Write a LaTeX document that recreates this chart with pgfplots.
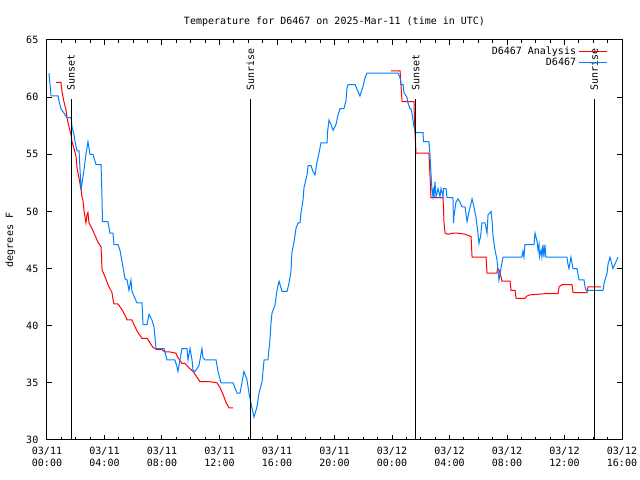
\documentclass[border=0pt]{standalone}
\usepackage{pgfplots}
\pgfplotsset{compat=1.18}
\usepackage{fontspec}
\setmainfont{DejaVu Sans Mono}
\definecolor{gpred}{RGB}{255,0,0}
\definecolor{gpblue}{RGB}{0,128,255}
\begin{document}
\begin{tikzpicture}
\begin{axis}[
  scale only axis,
  width=431.25pt, height=300pt,
  xmin=0, xmax=40, ymin=30, ymax=65,
  xtick={0,4,...,40},
  xticklabels={{03/11\\00:00},{03/11\\04:00},{03/11\\08:00},{03/11\\12:00},{03/11\\16:00},{03/11\\20:00},{03/12\\00:00},{03/12\\04:00},{03/12\\08:00},{03/12\\12:00},{03/12\\16:00}},
  minor x tick num=3,
  ytick={30,35,...,65},
  tick align=inside,
  major tick length=3.75pt,
  minor tick length=2.25pt,
  tick style={black, line width=0.75pt},
  axis line style={black, line width=0.75pt},
  /pgf/number format/assume math mode=true,
  tick label style={font=\fontsize{7.5}{9}\selectfont},
  xticklabel style={align=center, yshift=-2pt},
  yticklabel style={xshift=-3pt},
  ylabel={degrees F},
  ylabel style={font=\fontsize{7.5}{9}\selectfont, at={(axis description cs:0,0.5)}, anchor=center, yshift=27.5pt},
  title={Temperature for D6467 on 2025-Mar-11 (time in UTC)},
  title style={font=\fontsize{7.5}{9}\selectfont, yshift=0.5pt},
  unbounded coords=jump,
  legend plot pos=right,
  legend cell align=right,
  legend image code/.code={\draw[#1] (0pt,0pt) -- (21pt,0pt);},
  legend style={at={(rel axis cs:1,1)}, anchor=north east, xshift=-8pt, yshift=-1.5pt,
    draw=none, fill=none, font=\fontsize{7.5}{9}\selectfont, row sep=-2pt,
    nodes={inner sep=1.5pt}},
]
\addplot[gpred, line width=0.75pt] table {
x y
0.63 61.3
0.97 61.3
1.04 60.5
1.18 59.6
1.32 58.9
1.39 58.2
1.53 57.4
1.67 56.7
1.74 56.1
1.88 55.5
2.02 54.8
2.09 53.8
2.23 52.9
2.37 51.9
2.43 51.3
2.50 51.0
2.57 50.1
2.71 49.0
2.78 49.7
2.85 49.9
2.92 49.0
3.13 48.5
3.34 47.9
3.55 47.3
3.76 46.9
3.83 44.9
4.03 44.3
4.24 43.6
4.52 42.9
4.59 42.3
4.66 41.9
4.94 41.9
5.22 41.4
5.43 40.9
5.57 40.5
5.91 40.5
6.12 39.9
6.33 39.4
6.61 38.9
6.96 38.9
7.17 38.5
7.37 38.1
7.65 37.9
8.00 37.9
8.21 37.7
8.56 37.7
8.97 37.6
9.11 37.2
9.39 36.7
9.60 36.7
9.88 36.3
10.16 36.0
10.43 35.5
10.64 35.1
11.34 35.1
11.83 35.0
12.03 34.6
12.24 34.0
12.45 33.3
12.66 32.8
12.94 32.8
13.00 nan
23.93 62.3
24.56 62.3
24.59 61.8
24.63 61.0
24.70 59.6
25.53 59.6
25.57 57.6
25.67 55.1
26.57 55.1
26.64 53.2
26.71 51.2
27.55 51.2
27.62 49.0
27.69 48.1
27.90 48.0
28.24 48.1
28.59 48.1
29.08 48.0
29.50 47.8
29.57 46.0
30.54 46.0
30.61 44.6
31.30 44.6
31.34 45.0
31.44 44.9
31.58 44.3
31.65 43.9
32.21 43.9
32.28 43.1
32.56 43.1
32.63 42.4
33.25 42.4
33.39 42.6
33.60 42.7
34.64 42.8
35.55 42.8
35.62 43.4
35.83 43.6
36.52 43.6
36.59 42.9
37.57 42.9
37.63 43.4
38.54 43.4
};
\addlegendentry{D6467 Analysis}
\addplot[gpblue, line width=0.75pt] table {
x y
0.14 62.1
0.21 61.1
0.28 60.1
0.77 60.1
0.83 59.7
0.97 59.0
1.18 58.6
1.39 58.2
1.67 58.2
1.74 57.4
1.88 56.7
1.95 56.1
2.09 55.3
2.23 55.3
2.37 51.9
2.57 53.6
2.71 55.0
2.85 56.1
2.99 55.0
3.20 55.0
3.41 54.1
3.76 54.1
3.83 51.0
3.86 49.1
4.24 49.1
4.38 48.1
4.59 48.1
4.66 47.1
4.94 47.1
5.08 46.6
5.29 45.1
5.43 44.1
5.57 44.0
5.70 43.1
5.84 44.0
5.91 43.0
6.12 42.4
6.26 42.0
6.61 42.0
6.68 40.1
6.96 40.1
7.10 41.0
7.30 40.5
7.44 39.9
7.51 39.0
7.58 38.0
8.14 38.0
8.35 37.0
8.90 37.0
9.04 36.4
9.11 36.0
9.25 37.0
9.39 38.0
9.74 38.0
9.81 37.0
9.95 38.0
10.09 37.0
10.16 36.1
10.30 36.0
10.57 36.5
10.78 38.0
10.85 37.2
10.99 37.0
11.76 37.0
11.90 36.0
12.10 35.0
12.94 35.0
13.22 34.1
13.43 34.1
13.63 35.5
13.70 36.0
13.91 35.3
14.05 34.1
14.19 33.2
14.40 32.0
14.61 32.9
14.75 34.1
14.96 35.1
15.10 37.0
15.37 37.0
15.51 38.8
15.58 40.2
15.65 41.1
15.86 41.8
16.00 43.1
16.14 43.9
16.35 43.0
16.70 43.0
16.83 43.7
16.97 44.7
17.04 46.4
17.18 47.3
17.32 48.5
17.46 49.0
17.60 49.0
17.67 49.9
17.81 51.0
17.88 52.1
18.09 53.2
18.16 54.0
18.37 54.0
18.50 53.5
18.64 53.2
18.78 54.3
18.92 55.1
19.06 56.0
19.48 56.0
19.52 57.0
19.62 58.0
19.76 57.6
19.90 57.1
20.10 57.6
20.24 58.4
20.38 59.0
20.66 59.0
20.80 59.7
20.87 60.8
20.94 61.1
21.43 61.1
21.63 60.5
21.77 60.1
21.98 60.9
22.12 61.7
22.26 62.1
24.42 62.1
24.56 61.7
24.63 61.1
24.77 61.1
24.83 60.4
25.04 60.0
25.11 59.5
25.25 59.0
25.32 59.0
25.39 58.6
25.46 58.0
25.53 57.4
25.67 56.9
26.16 56.9
26.19 56.1
26.57 56.1
26.64 55.0
26.71 53.4
26.78 51.9
26.85 51.3
26.89 52.1
26.92 51.2
26.99 52.6
27.06 51.3
27.13 51.6
27.20 52.0
27.34 51.3
27.41 52.0
27.55 51.3
27.58 52.0
27.76 52.0
27.83 51.2
28.24 51.2
28.28 49.0
28.31 49.6
28.45 50.8
28.59 51.1
28.73 50.8
28.87 50.4
29.08 50.4
29.22 49.1
29.36 50.0
29.50 50.7
29.57 51.1
29.70 50.4
29.84 49.5
29.98 48.1
30.05 47.2
30.16 47.8
30.26 49.0
30.47 49.0
30.61 48.1
30.68 49.7
30.89 50.0
30.96 49.2
31.03 47.8
31.17 46.6
31.30 45.8
31.37 44.9
31.44 44.0
31.58 45.0
31.72 46.0
33.04 46.0
33.11 46.5
33.18 46.0
33.25 47.1
33.88 47.1
33.95 48.1
34.09 47.4
34.16 46.6
34.23 47.1
34.26 46.0
34.37 46.6
34.43 46.0
34.50 47.1
34.57 46.0
34.64 47.1
34.71 46.0
36.17 46.0
36.24 45.4
36.31 45.0
36.45 46.0
36.59 45.0
36.87 45.0
37.01 44.0
37.36 44.0
37.43 43.4
37.50 43.1
38.68 43.1
38.75 43.7
38.96 44.6
39.03 45.4
39.17 46.0
39.37 45.0
39.51 45.4
39.65 45.8
39.72 46.0
};
\addlegendentry{D6467}
\draw[black, line width=0.75pt] (axis cs:1.67,30) -- (axis cs:1.67,59.85);
\draw[black, line width=0.75pt] (axis cs:14.15,30) -- (axis cs:14.15,59.85);
\draw[black, line width=0.75pt] (axis cs:25.65,30) -- (axis cs:25.65,59.85);
\draw[black, line width=0.75pt] (axis cs:38.07,30) -- (axis cs:38.07,59.85);
\node[rotate=90, anchor=west, inner sep=0pt, font=\fontsize{7.5}{9}\selectfont, xshift=0.75pt] at (axis cs:1.67,60.45) {Sunset};
\node[rotate=90, anchor=west, inner sep=0pt, font=\fontsize{7.5}{9}\selectfont, xshift=0.75pt] at (axis cs:14.15,60.45) {Sunrise};
\node[rotate=90, anchor=west, inner sep=0pt, font=\fontsize{7.5}{9}\selectfont, xshift=0.75pt] at (axis cs:25.65,60.45) {Sunset};
\node[rotate=90, anchor=west, inner sep=0pt, font=\fontsize{7.5}{9}\selectfont, xshift=0.75pt] at (axis cs:38.07,60.45) {Sunrise};
\end{axis}
\pgfresetboundingbox
\path ([shift={(-35.25pt,-30pt)}]current axis.south west) rectangle ([shift={(13.5pt,30pt)}]current axis.north east);
\end{tikzpicture}
\end{document}
